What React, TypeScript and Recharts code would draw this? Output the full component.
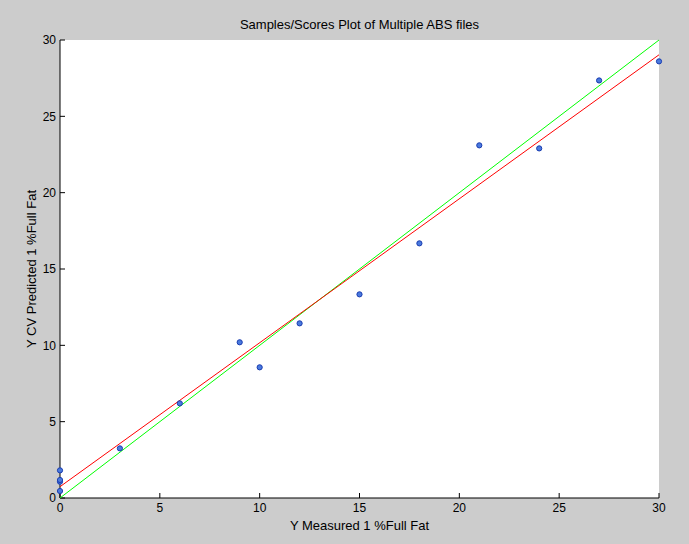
import { ComposedChart, Scatter, XAxis, YAxis } from 'recharts'

// measured vs. cross-validated predicted (% full fat)
const measured = [0, 0, 0, 0, 3, 6, 9, 10, 12, 15, 18, 21, 24, 27, 30]
const predicted = [0.46, 1.07, 1.18, 1.81, 3.25, 6.2, 10.2, 8.56, 11.44, 13.34, 16.68, 23.1, 22.9, 27.35, 28.6]

// ideal 1:1 line and the fitted line, as end points
const idealX = [0, 30]
const idealY = [0, 30]
const fitX = [0, 30]
const fitY = [0.74, 29.03]

const ticks = [0, 5, 10, 15, 20, 25, 30]

const samples = measured.map((x, i) => ({ x, y: predicted[i] }))
const ideal = idealX.map((x, i) => ({ x, y: idealY[i] }))
const fit = fitX.map((x, i) => ({ x, y: fitY[i] }))

const FONT = 'Arial, "Liberation Sans", sans-serif'
const tickStyle = { fill: '#000', fontSize: 12, fontFamily: FONT }
const noLabel = () => <g />

const Dot = (props: any) => (
  <circle cx={props.cx} cy={props.cy} r={2.6} fill="#4a7ade" stroke="#1a3cb0" strokeWidth={1} />
)

export default function App() {
  return (
    <div style={{ position: 'fixed', left: 0, top: 0, width: 689, height: 544, background: '#cccccc' }}>
      <div
        style={{
          position: 'absolute',
          top: 17,
          left: 60,
          width: 599,
          textAlign: 'center',
          fontFamily: FONT,
          fontSize: 13,
          color: '#000',
        }}
      >
        Samples/Scores Plot of Multiple ABS files
      </div>
      <ComposedChart
        width={689}
        height={544}
        margin={{ top: 40, right: 30, bottom: 0, left: 0 }}
        style={{ position: 'absolute', left: 0, top: 0 }}
      >
        <rect x={60} y={40} width={599} height={458} fill="#fff" />
        <XAxis
          xAxisId="b"
          dataKey="x"
          type="number"
          domain={[0, 30]}
          ticks={ticks}
          height={46}
          tickSize={-5}
          tickMargin={10}
          tick={tickStyle}
          stroke="#000"
          label={{ value: 'Y Measured 1 %Full Fat', position: 'insideBottom', offset: 14, fill: '#000', fontSize: 13, fontFamily: FONT }}
        />
        <XAxis
          xAxisId="t"
          orientation="top"
          dataKey="x"
          type="number"
          domain={[0, 30]}
          ticks={ticks}
          height={0}
          tickSize={-5}
          tick={noLabel}
          stroke="#000"
        />
        <YAxis
          yAxisId="l"
          dataKey="y"
          type="number"
          domain={[0, 30]}
          ticks={ticks}
          width={60}
          tickSize={-5}
          tickMargin={9}
          tick={tickStyle}
          stroke="#000"
          label={{ value: 'Y CV Predicted 1 %Full Fat', angle: -90, position: 'insideLeft', offset: 31, fill: '#000', fontSize: 13, fontFamily: FONT, style: { textAnchor: 'middle' } }}
        />
        <YAxis
          yAxisId="r"
          orientation="right"
          dataKey="y"
          type="number"
          domain={[0, 30]}
          ticks={ticks}
          width={0}
          tickSize={-5}
          tick={noLabel}
          stroke="#000"
        />
        <Scatter
          xAxisId="b"
          yAxisId="l"
          data={ideal}
          line={{ stroke: '#00ff00', strokeWidth: 1 }}
          shape={noLabel}
          isAnimationActive={false}
        />
        <Scatter
          xAxisId="b"
          yAxisId="l"
          data={fit}
          line={{ stroke: '#ff0000', strokeWidth: 1 }}
          shape={noLabel}
          isAnimationActive={false}
        />
        <Scatter xAxisId="b" yAxisId="l" data={samples} shape={Dot} isAnimationActive={false} />
      </ComposedChart>
    </div>
  )
}
